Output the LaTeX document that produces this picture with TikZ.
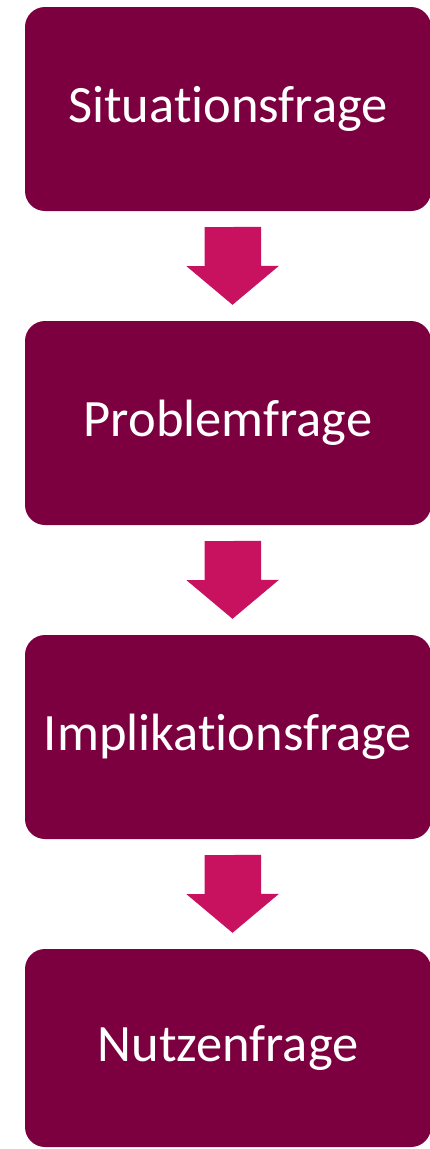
\documentclass[tikz,border=0pt]{standalone}
\usepackage{fontspec}
\setmainfont{Carlito}[RawFeature={-liga;-dlig;-clig;-calt}]
\usetikzlibrary{calc}
\definecolor{frage}{HTML}{7C003F}
\definecolor{pfeil}{HTML}{C8125F}

\begin{document}
\begin{tikzpicture}[x=1pt, y=1pt,
    box/.style={rectangle, rounded corners=20pt, fill=frage, text=white,
      minimum width=406pt, minimum height=204pt, inner sep=0pt,
      font=\fontsize{52.5}{60}\selectfont},
    arr/.style={fill=pfeil}]
  \useasboundingbox (0, 0) rectangle (430, -1149);
  \clip (0, 0) rectangle (430, -1149);
  \node[box] (sit) at (228, -109) {Situationsfrage};
  \node[box] (prob) at (228, -423) {Problemfrage};
  \node[box] (impl) at (228, -737) {Implikationsfrage};
  \node[box, minimum height=198pt] (nutz) at (228, -1048) {Nutzenfrage};
  \foreach \a/\b in {sit/prob, prob/impl, impl/nutz}
    \fill[arr] ($(\a.south)+(-23.5, -16)$) -- ++(0, -39) -- ++(-18, 0)
      -- ($(\b.north)+(4.5, 16)$) -- ++(46.5, 39) -- ++(-18, 0)
      -- ++(0, 39) -- cycle;
\end{tikzpicture}
\end{document}
